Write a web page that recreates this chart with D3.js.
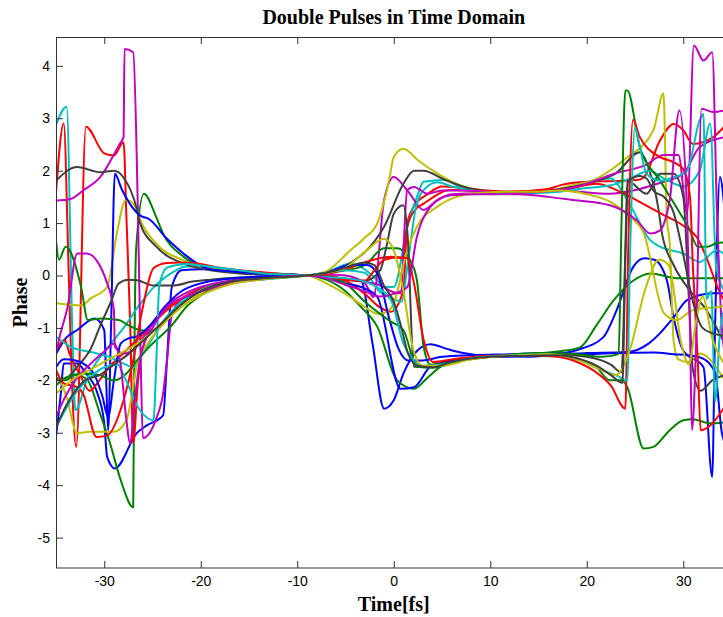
<!DOCTYPE html>
<html>
<head>
<meta charset="utf-8">
<script src="https://cdn.jsdelivr.net/npm/d3@7"></script>
<style>
  body { margin: 0; background: #fff; }
  svg { display: block; }
</style>
</head>
<body>
<svg id="chart" width="723" height="617"></svg>
<script>
// Tick labels
const tickTime = [-30, -20, -10, 0, 10, 20, 30];
const tickPhase = [-5, -4, -3, -2, -1, 0, 1, 2, 3, 4];

// Phase traces: [time (fs), phase (rad)]
const blue1 = [[-35,-3.08],[-34.5,-2.25],[-34.2,-1.68],[-32.8,-1.68],[-31.9,-1.87],[-30.7,-2.25],[-30.0,-2.82],[-29.7,-3.46],[-28.9,-3.68],[-26.6,-3.0],[-25.6,-2.86],[-23.9,-2.67],[-23.5,-1.62],[-23.0,-0.22],[-22,0.1],[-20,0.12],[-17,0.08],[-14,0.04],[-11,0.02],[-9,0],[-7,-0.03],[-5,-0.06],[-3.4,-0.1],[-2.2,-1.3],[-1.0,-2.54],[0,-2.38],[1.0,-1.87],[2.5,-1.42],[3.8,-1.31],[5.5,-1.4],[7.2,-1.48],[10,-1.54],[14,-1.55],[17,-1.5],[19,-1.42],[21.7,-1.18],[23.1,-0.66],[24.8,0.16],[26,0.33],[27,0.3],[28.3,-0.09],[29,-0.8],[30,-1.43],[32.1,-1.75],[33.0,-3.84],[33.3,-1.0],[33.8,1.88],[34.3,1.2]];
const blue2 = [[-35,-1.5],[-34,-1.2],[-32.8,-1.04],[-31,-0.82],[-30,-1.04],[-29.8,-2.0],[-29.6,-2.95],[-29.3,-1.0],[-28.9,1.94],[-28.2,1.65],[-25.9,1.11],[-25.6,1.1],[-23.5,0.7],[-21.8,0.42],[-19.4,0.14],[-17,0.08],[-14,0.04],[-9,0],[-7,-0.05],[-5,-0.15],[-3,-0.25],[-1.7,-0.41],[0.7,-2.16],[2.1,-2.13],[3.8,-1.74],[6,-1.62],[10,-1.55],[14,-1.53],[17,-1.5],[20,-1.48],[24.2,-1.46],[26.4,-1.3],[27.6,-1.1],[29,-0.8],[30.4,-0.47],[33.1,-0.34],[34.3,-0.34]];
const blue3 = [[-35,-1.75],[-34.2,-1.6],[-33,-1.62],[-32,-1.7],[-31,-1.9],[-30.2,-2.3],[-29.6,-2.7],[-29.0,-2.0],[-28.3,-1.3],[-27.5,-1.2],[-26.5,-1.15],[-25,-0.9],[-23.5,-0.55],[-22,-0.3],[-20,-0.15],[-17,-0.06],[-14,-0.02],[-9,0],[-7,0.05],[-4.5,0.2],[-2.8,0.2],[-1.7,0.04],[-0.5,-0.8],[0.5,-1.4],[1.5,-1.62],[3,-1.62],[5,-1.55],[8,-1.52],[12,-1.5],[16,-1.48],[20,-1.5],[23,-1.48],[27,-1.47],[29,-1.5],[30.5,-1.52],[32,-1.58],[33.3,-1.85],[34.0,-3.0],[34.3,-3.2]];

const green1 = [[-35,-1.95],[-34,-2.0],[-33,-1.9],[-31.8,-1.98],[-30.5,-2.6],[-29.4,-3.2],[-28.3,-3.9],[-27.0,-4.42],[-26.9,-2.0],[-26.7,0.5],[-25.9,1.56],[-24.6,1.11],[-23.9,0.8],[-21.8,0.36],[-19.5,0.15],[-17,0.08],[-14,0.05],[-9,0],[-7,-0.08],[-5,-0.3],[-3.4,-0.6],[-1.7,-0.98],[0.35,-2.0],[2.1,-2.16],[3.5,-1.95],[5,-1.72],[7,-1.6],[10,-1.55],[13,-1.52],[17,-1.52],[19,-1.6],[21,-1.75],[22.4,-2.0],[23.6,-2.0],[24.2,-2.13],[25.9,-3.3],[26.9,-3.27],[28.6,-2.95],[30,-2.76],[31,-2.74],[32.8,-2.82],[34.3,-2.8]];
const green2 = [[-35,0.67],[-34.7,0.3],[-34.0,0.55],[-32.4,-0.22],[-31.7,-0.85],[-30.3,-0.82],[-28.5,-0.85],[-27.5,-0.95],[-26,-1.05],[-25,-1.05],[-23.5,-0.85],[-22,-0.55],[-20,-0.3],[-17,-0.13],[-14,-0.06],[-9,0],[-7,0.05],[-5,0.1],[-3,0.2],[-1,0.52],[0.35,0.52],[1.7,0.29],[2.4,-0.09],[3.1,-1.36],[3.8,-1.7],[6,-1.65],[10,-1.55],[14,-1.5],[17,-1.45],[19.3,-1.37],[21,-0.95],[22.8,-0.47],[24.8,-0.1],[26.6,0.04],[29.3,-0.05],[34.3,-0.05]];
const green3 = [[-35,-2.1],[-34,-1.95],[-32,-1.87],[-30.5,-1.9],[-29,-2.0],[-27.7,-1.87],[-26.6,-1.62],[-25,-1.3],[-23,-0.95],[-21.5,-0.6],[-20,-0.38],[-17,-0.15],[-14,-0.07],[-9,0],[-7,-0.03],[-5,-0.15],[-3,-0.5],[-0.3,-0.88],[1.0,-1.04],[2.4,-1.74],[4,-1.76],[7,-1.62],[11,-1.53],[15,-1.48],[19,-1.5],[21.5,-1.55],[23.3,-1.5],[23.6,1.0],[24.0,3.53],[24.2,3.53],[25.5,2.45],[27.6,1.81],[29.7,1.18],[30.6,0.9],[31.5,0.55],[32.5,0.55],[33.5,0.62],[34.3,0.63]];

const red1 = [[-35,1.57],[-34.2,2.9],[-33.7,0.16],[-33.4,-1.74],[-32.9,-3.27],[-31.9,2.84],[-30,2.33],[-29,2.29],[-28,2.54],[-27.7,1.1],[-27.3,-1.0],[-27.0,-3.2],[-26.5,-2.0],[-25.5,-1.1],[-24,-0.7],[-22,-0.45],[-20,-0.3],[-17,-0.15],[-14,-0.06],[-11,-0.02],[-9,0],[-7,0.0],[-5,-0.1],[-3,-0.35],[-1.5,-0.6],[-0.3,-0.69],[1.0,-0.28],[1.4,1.0],[2.2,1.35],[3.5,1.55],[5,1.7],[8,1.65],[12,1.6],[16,1.65],[17.2,1.72],[20,1.79],[22.5,1.8],[25.2,1.82],[25.9,1.87],[27.6,2.58],[29,2.89],[30,2.77],[31,2.51],[33.1,2.64],[34.3,2.85]];
const red2 = [[-35,-1.43],[-34.1,-1.23],[-33.6,-1.49],[-32.5,-1.9],[-31.5,-2.2],[-30.5,-2.0],[-29.5,-1.75],[-28,-1.48],[-25.9,-1.1],[-23.5,-0.66],[-21.1,-0.34],[-17,-0.12],[-14.2,-0.05],[-9,0],[-7,0.03],[-5,0.12],[-3,0.25],[-1.7,0.32],[-0.3,0.36],[0.9,0.33],[1.4,0.93],[2.2,1.25],[3.1,1.37],[5.9,1.63],[8,1.62],[12,1.6],[16,1.62],[18,1.65],[21,1.75],[24,1.55],[26,1.35],[28,1.15],[30,0.95],[31.5,0.7],[32.5,0.3],[33.5,-0.2],[34.3,-0.5]];
const red3 = [[-35,-1.8],[-34.2,-2.06],[-32.8,-2.13],[-32.2,-2.25],[-30.8,-3.08],[-29.7,-3.05],[-28,-2.38],[-27,-1.62],[-26,-0.6],[-24.9,0.14],[-23.5,0.24],[-22.2,0.25],[-20.4,0.23],[-18.4,0.16],[-14.2,0.07],[-11,0.02],[-9,0],[-7,-0.03],[-5,-0.08],[-3,-0.1],[-2,0.1],[-1,0.3],[0.5,0.35],[1.4,0.33],[2.1,-0.15],[3.1,-1.23],[4.1,-1.65],[6,-1.6],[10,-1.53],[14,-1.52],[17,-1.55],[19,-1.65],[21,-1.85],[22.5,-2.1],[24.0,-2.54],[24.3,0.5],[24.8,2.97],[25.5,2.64],[27.6,2.26],[29,2.16],[30,2.03],[30.7,1.5],[31,0.17],[31.5,-1.6],[31.8,-2.95],[32.8,-2.86],[34.3,-2.5]];

const cyan1 = [[-35,2.87],[-33.9,3.22],[-33.3,-1.1],[-33.0,-2.57],[-31.7,-1.94],[-29.3,-1.3],[-28,-1.0],[-26.5,-0.6],[-25,-0.25],[-23,0.05],[-21.5,0.17],[-20,0.17],[-17,0.1],[-14,0.04],[-9,0],[-6.5,0.1],[-4.5,0.23],[-3.4,0.16],[-1.7,-0.09],[-1,-0.22],[0,-0.22],[1.4,0.93],[2.4,1.5],[3.1,1.79],[5.2,1.82],[7,1.68],[10,1.58],[14,1.58],[17.2,1.65],[20,1.78],[22.5,1.85],[24.2,1.44],[26.6,0.67],[27.6,0.55],[30,0.42],[31.7,0.26],[33.5,0.48],[34.3,0.4]];
const cyan2 = [[-35,-1.17],[-33.5,-1.36],[-31.4,-1.46],[-29.5,-1.55],[-28,-1.68],[-27,-1.75],[-26,-1.5],[-24,-0.9],[-22,-0.5],[-20,-0.28],[-17,-0.12],[-14,-0.08],[-9,0],[-7,0.05],[-5,0.1],[-3,0.05],[-1.5,-0.3],[0,-0.45],[0.8,-0.5],[1.5,0.3],[2.3,1.3],[3.2,1.65],[4.5,1.78],[6,1.7],[9,1.6],[13,1.57],[17.2,1.6],[20,1.67],[22.5,1.72],[24.5,1.85],[26.5,2.0],[28,1.85],[30,1.7],[31.7,2.0],[32.8,2.9],[33.4,0.2],[34.3,-0.3]];
const cyan3 = [[-35,-2.9],[-34,-2.55],[-33,-2.25],[-31.5,-1.95],[-30,-1.75],[-28.6,-1.7],[-28,-1.9],[-26.3,-2.57],[-24.9,-2.76],[-24.6,-1.62],[-24.3,-0.2],[-23.5,0.15],[-21.5,0.22],[-19.5,0.18],[-16,0.1],[-14,0.05],[-9,0],[-7,-0.03],[-5,-0.05],[-3,-0.12],[-1.5,-0.25],[-0.2,-0.5],[1,-1.3],[2,-1.6],[3,-1.72],[5,-1.7],[8,-1.58],[12,-1.52],[16,-1.5],[19,-1.6],[21.5,-1.8],[23,-1.9],[24.2,-2.0],[24.5,0.5],[25.0,2.83],[25.5,2.45],[26.2,1.94],[27.6,1.81],[29,1.87],[30.4,2.0],[31.7,2.96],[32.1,3.08],[32.4,-0.45],[32.9,-0.3],[33.3,-2.4],[33.8,-1.1],[34.3,-0.6]];

const magenta1 = [[-35,1.43],[-33.5,1.46],[-32.2,1.62],[-30.4,1.88],[-28.4,2.51],[-28.0,2.64],[-27.9,4.32],[-27.0,4.26],[-26.5,1.11],[-26.2,-1.8],[-26.0,-3.1],[-24.6,-2.72],[-23.9,-2.25],[-23.5,-1.62],[-23,-0.75],[-22,-0.45],[-20,-0.3],[-17,-0.15],[-14,-0.08],[-9,0],[-7,0.02],[-5,0.0],[-3,-0.15],[-2.1,-0.41],[-1.0,1.44],[0,1.88],[1.5,1.6],[3.1,1.25],[4.5,1.44],[6,1.55],[9,1.57],[13,1.56],[17.2,1.62],[22.4,1.56],[24.8,1.62],[27.3,1.75],[30,1.94],[31.7,2.45],[34.3,2.64]];
const magenta2 = [[-35,-1.5],[-34.7,-1.23],[-33.8,-0.6],[-32.8,0.42],[-31.8,0.42],[-30.8,0.29],[-29.7,-0.15],[-29,-0.66],[-28.9,-1.36],[-28.0,-1.49],[-26.9,-1.4],[-25.5,-1.05],[-24,-0.65],[-22,-0.38],[-20,-0.22],[-17,-0.1],[-14,-0.03],[-9,0],[-7,-0.03],[-5,-0.08],[-3,-0.12],[-1.5,-0.18],[0,-0.32],[0.7,-0.34],[1.4,1.63],[2.1,1.69],[3.5,1.56],[5,1.62],[7,1.62],[10,1.6],[13,1.58],[17,1.62],[20,1.75],[23,1.95],[26,2.1],[28,2.3],[29.5,2.3],[30.4,1.18],[31.1,4.39],[32.1,4.1],[33.0,4.26],[33.5,1.18],[34.0,-1.0],[34.3,-1.5]];
const magenta3 = [[-35,-2.7],[-34,-2.3],[-33,-2.0],[-31.5,-1.7],[-30,-1.45],[-29,-1.3],[-28.3,-1.7],[-27.8,-2.6],[-27.3,-3.2],[-26.9,-2.5],[-26.2,-1.5],[-25,-1.0],[-23.5,-0.6],[-21.5,-0.4],[-19,-0.25],[-16,-0.12],[-14,-0.07],[-9,0],[-7,-0.05],[-5,-0.18],[-3,-0.3],[-1.5,-0.4],[0,-0.35],[1.4,-0.22],[2.4,0.74],[3.8,1.31],[5.9,1.53],[9,1.55],[13,1.55],[16,1.5],[18.6,1.44],[22.4,1.34],[25.2,1.05],[26.6,0.8],[27.6,0.86],[28.3,1.18],[28.6,1.44],[29.6,3.15],[30.4,1.18],[30.7,-1.0],[30.9,-2.95],[31.3,-1.5],[31.9,3.18],[33.1,3.12],[34.3,3.15]];

const yellow1 = [[-35,-0.53],[-33.5,-0.56],[-32.3,-0.57],[-31.5,-0.45],[-29.7,-0.22],[-28.7,0.8],[-27.8,1.43],[-27.5,1.43],[-26.6,1.24],[-26.3,1.08],[-24.6,0.61],[-21.8,0.29],[-19.4,0.16],[-16,0.08],[-14,0.04],[-9,0],[-7,0.08],[-4.5,0.48],[-3,0.72],[-1.7,1.0],[-0.5,1.8],[0,2.26],[1.0,2.42],[2.5,2.2],[4.5,1.95],[6.5,1.75],[8.6,1.63],[12,1.57],[16,1.6],[18,1.7],[20.7,1.82],[23.8,2.2],[26.9,2.77],[27.95,3.47],[28.3,1.11],[28.6,0.61],[29,-1.24],[29.5,-1.6],[30.5,-1.65],[31.7,-1.49],[34.3,-2.0]];
const yellow2 = [[-35,-1.8],[-33.9,-2.32],[-32.8,-3.01],[-31.5,-2.98],[-29,-2.98],[-27.7,-2.76],[-26.5,-1.62],[-25.5,-1.3],[-24,-0.95],[-22,-0.6],[-20,-0.35],[-17,-0.15],[-14,-0.07],[-9,0],[-7,-0.15],[-4.5,-0.41],[-3,-0.6],[-1.7,-0.73],[-0.8,-0.7],[0,-0.53],[1.4,0.48],[2.4,0.93],[4.5,1.31],[6.5,1.5],[9,1.58],[12,1.6],[15,1.6],[17.2,1.62],[20,1.55],[22.5,1.4],[24.5,1.11],[25.9,0.81],[28,-0.72],[29.3,-0.85],[31,-0.66],[33.5,-0.6],[34.3,-0.58]];
const yellow3 = [[-35,-2.25],[-34,-2.1],[-33,-1.95],[-31.5,-1.8],[-30,-1.65],[-28.5,-1.5],[-27,-1.35],[-25.5,-1.15],[-24,-0.9],[-22,-0.6],[-20,-0.38],[-17,-0.17],[-14,-0.08],[-9,0],[-7,0.05],[-5,0.15],[-2.8,0.48],[-1.0,0.7],[0,0.48],[1,-0.3],[2,-1.4],[3,-1.72],[5,-1.72],[8,-1.6],[12,-1.53],[16,-1.5],[19,-1.6],[21.5,-1.8],[23,-1.9],[24.5,-1.4],[26,-0.3],[27.5,0.3],[28.5,0.2],[29.8,-1.3],[30.6,-1.7],[31.3,-0.9],[32,-0.4],[33,-1.2],[34.3,-1.7]];

const gray1 = [[-35,1.81],[-32.8,2.07],[-30.4,1.97],[-29,2.0],[-28,1.87],[-26.6,1.25],[-26.3,1.0],[-24.6,0.55],[-21.8,0.23],[-19,0.1],[-16,0.04],[-14,0.02],[-9,0],[-6,0.1],[-4,0.3],[-2.8,0.48],[-1,0.93],[1,1.75],[2.1,2.0],[3.1,2.0],[5,1.85],[7.5,1.68],[10,1.6],[13,1.56],[17.2,1.65],[21,1.8],[23,1.95],[25.5,2.35],[26.5,2.0],[27.4,1.3],[27.8,0.8],[29,0.2],[30.4,-0.22],[32.4,-0.66],[34.3,-1.3]];
const gray2 = [[-35,-2.0],[-33.8,-1.94],[-32.8,-1.74],[-31.4,-1.4],[-30.4,-0.95],[-29.3,-0.5],[-28.5,-0.15],[-27.5,-0.08],[-26.6,-0.09],[-24.9,-0.19],[-22.8,-0.19],[-21,-0.12],[-19,-0.08],[-16,-0.04],[-14,-0.03],[-9,0],[-7,-0.03],[-5,-0.08],[-3,-0.1],[-1.4,0.1],[-0.7,0.6],[0,1.18],[1.0,1.34],[1.4,0.86],[2.1,-1.74],[3.8,-1.74],[6,-1.65],[9,-1.57],[13,-1.52],[17,-1.5],[20,-1.55],[22.5,-1.7],[23.6,-1.85],[24.0,0.5],[24.2,1.81],[26.2,1.56],[27.6,1.94],[29,1.94],[30,1.5],[30.6,-0.5],[31,-1.8],[31.8,-2.2],[33,-2.0],[34.3,-1.9]];
const gray3 = [[-35,-2.9],[-34,-2.5],[-33,-2.2],[-32,-2.0],[-30.5,-1.9],[-29,-1.7],[-27.5,-1.5],[-26,-1.25],[-24,-0.9],[-22,-0.55],[-20,-0.3],[-17,-0.12],[-14,-0.06],[-9,0],[-7,0.05],[-5,0.15],[-3,0.25],[-2,0.2],[-1,-0.2],[0,-0.5],[0.8,-1.0],[1.5,-1.5],[2.5,-1.72],[4,-1.75],[6,-1.65],[10,-1.55],[14,-1.53],[17,-1.52],[19,-1.58],[21,-1.72],[22.5,-1.9],[23.7,-2.05],[24.0,0.3],[24.3,1.8],[25.5,1.9],[26.2,1.85],[27,1.6],[28,1.5],[29,1.2],[30,0.4],[31,-0.5],[32,-1.0],[33,-1.1],[34.3,-1.15]];

// Line colour cycle
const BLUE = "#0000ff", GREEN = "#008000", RED = "#ff0000", CYAN = "#00bfbf",
      MAGENTA = "#bf00bf", YELLOW = "#bfbf00", GRAY = "#404040";

const series = [
  { color: BLUE, values: blue1 }, { color: GREEN, values: green1 }, { color: RED, values: red1 },
  { color: CYAN, values: cyan1 }, { color: MAGENTA, values: magenta1 }, { color: YELLOW, values: yellow1 },
  { color: GRAY, values: gray1 },
  { color: BLUE, values: blue2 }, { color: GREEN, values: green2 }, { color: RED, values: red2 },
  { color: CYAN, values: cyan2 }, { color: MAGENTA, values: magenta2 }, { color: YELLOW, values: yellow2 },
  { color: GRAY, values: gray2 },
  { color: BLUE, values: blue3 }, { color: GREEN, values: green3 }, { color: RED, values: red3 },
  { color: CYAN, values: cyan3 }, { color: MAGENTA, values: magenta3 }, { color: YELLOW, values: yellow3 },
  { color: GRAY, values: gray3 }
];

// Layout
const plotLeft = 56, plotRight = 731.5, plotTop = 37, plotBottom = 568;
const svg = d3.select("#chart");

const x = d3.scaleLinear().domain([-35, 35]).range([plotLeft, plotRight]);
const y = d3.scaleLinear().domain([-5.58, 4.55]).range([plotBottom, plotTop]);

svg.append("rect").attr("width", 723).attr("height", 617).attr("fill", "#fff");

svg.append("defs").append("clipPath").attr("id", "plot-clip")
  .append("rect")
  .attr("x", plotLeft).attr("y", plotTop)
  .attr("width", plotRight - plotLeft).attr("height", plotBottom - plotTop);

// Traces
const line = d3.line()
  .x(d => x(d[0]))
  .y(d => y(d[1]))
  .curve(d3.curveMonotoneX);

svg.append("g").attr("clip-path", "url(#plot-clip)")
  .selectAll("path")
  .data(series)
  .join("path")
  .attr("d", d => line(d.values))
  .attr("fill", "none")
  .attr("stroke", d => d.color)
  .attr("stroke-width", 2)
  .attr("stroke-linejoin", "round")
  .attr("stroke-linecap", "round");

// Axes (ticks pointing inward, box around the plot)
const axisColor = "#333";
const tickFont = "Liberation Sans, Arial, Helvetica, sans-serif";

function styleAxis(g) {
  g.select(".domain").remove();
  g.selectAll(".tick line").attr("stroke", axisColor);
  g.selectAll(".tick text").attr("fill", "#000")
    .style("font-family", tickFont).style("font-size", "14px");
}

svg.append("g")
  .attr("transform", `translate(0,${plotBottom})`)
  .call(d3.axisBottom(x).tickValues(tickTime).tickSize(-7).tickPadding(8).tickFormat(d => String(d)))
  .call(styleAxis);

svg.append("g")
  .attr("transform", `translate(0,${plotTop})`)
  .call(d3.axisTop(x).tickValues(tickTime).tickSize(-7).tickFormat(""))
  .call(styleAxis);

svg.append("g")
  .attr("transform", `translate(${plotLeft},0)`)
  .call(d3.axisLeft(y).tickValues(tickPhase).tickSize(-7).tickPadding(6).tickFormat(d => String(d)))
  .call(styleAxis);

svg.append("g")
  .attr("transform", `translate(${plotRight},0)`)
  .call(d3.axisRight(y).tickValues(tickPhase).tickSize(-7).tickFormat(""))
  .call(styleAxis);

svg.append("rect")
  .attr("x", plotLeft + 0.5).attr("y", plotTop + 0.5)
  .attr("width", plotRight - plotLeft).attr("height", plotBottom - plotTop - 0.5)
  .attr("fill", "none").attr("stroke", axisColor).attr("stroke-width", 1);

// Titles
const serif = "Liberation Serif, Times New Roman, serif";
const midX = (plotLeft + plotRight) / 2;

svg.append("text")
  .attr("x", midX).attr("y", 24)
  .attr("text-anchor", "middle")
  .style("font-family", serif).style("font-weight", "bold").style("font-size", "20px")
  .text("Double Pulses in Time Domain");

svg.append("text")
  .attr("x", midX).attr("y", 611)
  .attr("text-anchor", "middle")
  .style("font-family", serif).style("font-weight", "bold").style("font-size", "20px")
  .text("Time[fs]");

svg.append("text")
  .attr("transform", `translate(27,${(plotTop + plotBottom) / 2}) rotate(-90)`)
  .attr("text-anchor", "middle")
  .style("font-family", serif).style("font-weight", "bold").style("font-size", "20px")
  .text("Phase");
</script>
</body>
</html>
